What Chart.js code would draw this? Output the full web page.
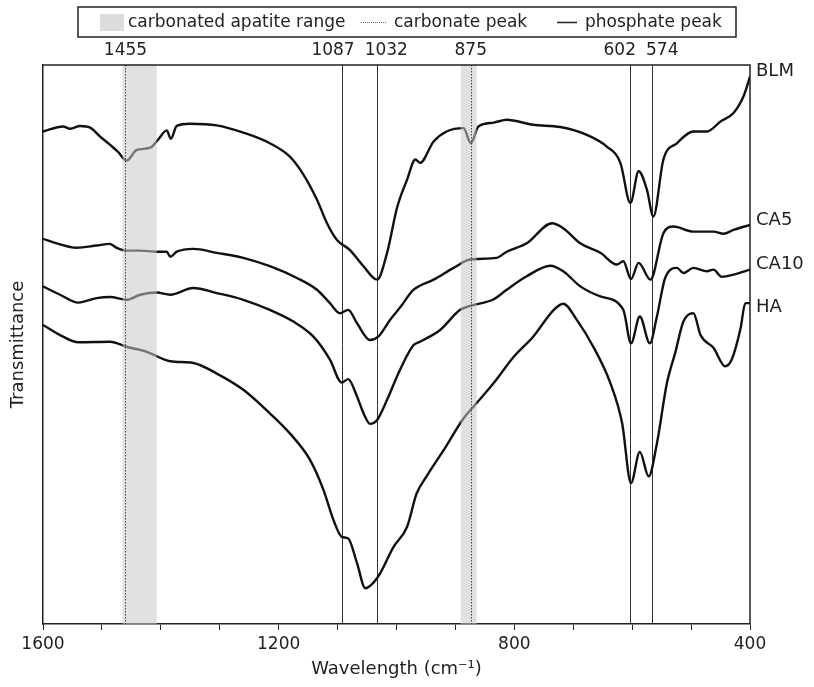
<!DOCTYPE html>
<html>
<head>
<meta charset="utf-8">
<script src="https://cdn.jsdelivr.net/npm/chart.js@4.4.0/dist/chart.umd.min.js"></script>
<style>
  html, body { margin: 0; padding: 0; background: #fff; }
  canvas { display: block; }
</style>
</head>
<body>
<canvas id="ftir" width="814" height="687"></canvas>
<script>
// wavenumber (cm-1) / transmittance (a.u., 0-100)
const blmWn = [1600,1566,1554,1537,1520,1503,1486,1473,1458,1441,1418,1405,1390,1383,1373,1350,1305,1260,1215,1181,1158,1135,1118,1101,1079,1056,1033,1016,999,982,968,960,937,915,886,874,861,835,813,768,722,677,643,620,603,589,575,564,547,524,496,473,450,428,411,400];
const blmT = [88.1,89.0,88.6,89.1,88.8,87.2,85.7,84.5,82.9,84.8,85.2,86.6,88.3,86.8,89.1,89.5,89.2,87.9,86.0,83.6,80.4,75.9,71.7,68.7,66.9,64.0,61.6,66.4,74.5,79.5,83.1,82.5,86.3,88.1,88.7,86.0,89.0,89.7,90.2,89.3,88.9,87.5,85.4,82.5,75.3,81.0,77.7,72.9,83.1,86.0,88.1,88.1,89.9,91.4,94.4,97.9];

const ca5Wn = [1600,1577,1543,1509,1487,1475,1458,1435,1407,1390,1384,1373,1345,1305,1260,1215,1169,1135,1113,1096,1082,1067,1045,1031,1011,994,971,937,903,875,830,813,779,736,717,688,654,626,615,602,589,569,547,530,496,462,445,428,400];
const ca5T = [68.9,68.1,67.3,67.7,68.0,67.3,66.8,66.8,66.6,66.6,65.7,66.6,67.1,66.4,65.5,64.0,61.9,59.8,57.4,55.6,56.2,53.8,50.8,51.4,54.4,56.6,59.8,61.6,63.7,65.2,65.5,66.6,68.1,71.7,70.8,68.1,66.4,64.3,64.9,61.7,64.6,61.6,69.9,71.1,70.2,70.2,69.8,70.5,71.4];

const ca10Wn = [1600,1571,1540,1509,1486,1458,1435,1407,1384,1345,1305,1260,1215,1175,1141,1113,1093,1082,1067,1056,1045,1033,1016,994,971,960,926,892,875,835,813,779,739,717,688,654,615,602,587,570,558,544,524,513,496,473,462,448,428,400];
const ca10T = [60.4,58.9,57.5,58.3,58.5,58.0,58.9,59.3,58.9,60.1,59.2,58.0,56.2,54.1,51.4,47.3,43.2,43.8,40.7,37.7,35.8,36.5,40.1,45.5,49.9,50.5,52.6,56.2,56.9,58.1,59.8,62.2,64.1,63.1,60.4,58.6,56.2,50.2,55.0,50.2,55.0,61.9,63.7,62.8,63.7,63.1,63.4,62.1,62.5,63.4];

const haWn = [1600,1566,1540,1486,1458,1424,1384,1345,1305,1260,1215,1181,1147,1124,1107,1093,1082,1067,1053,1031,1005,982,966,949,920,886,869,835,801,768,733,717,694,666,637,617,602,587,572,558,541,527,513,496,484,462,442,431,416,408,400];
const haT = [53.5,51.4,50.4,50.5,49.6,48.7,47.0,46.7,44.8,41.9,37.7,34.1,29.4,24.0,18.6,15.6,15.3,10.9,6.4,8.5,13.8,17.4,23.3,26.4,31.1,36.8,38.9,43.1,47.8,51.4,56.2,57.3,54.4,49.6,43.1,35.9,25.2,30.8,26.4,32.3,43.1,48.5,54.1,55.6,51.7,49.4,46.1,47.3,52.9,57.4,57.4];

const seriesNames = ['BLM', 'CA5', 'CA10', 'HA'];

// marker lines
const carbonateBands = [[1465, 1407], [891, 864]];
const carbonatePos = [1460, 874];
const carbonateLabels = ['1455', '875'];
const phosphatePos = [1092, 1033, 603, 567];
const phosphateLabels = ['1087', '1032', '602', '574'];

const FONT = '"DejaVu Sans", sans-serif';
const INK = '#222';

const pts = (xs, ys) => xs.map((x, i) => ({ x, y: ys[i] }));
const series = [[blmWn, blmT], [ca5Wn, ca5T], [ca10Wn, ca10T], [haWn, haT]];

const overlay = {
  id: 'overlay',
  beforeDatasetsDraw(chart) {
    const { ctx, chartArea: a, scales: { x } } = chart;
    ctx.save();
    ctx.strokeStyle = '#333';
    ctx.lineWidth = 1;
    phosphatePos.forEach(v => {
      const px = Math.round(x.getPixelForValue(v)) + 0.5;
      ctx.beginPath(); ctx.moveTo(px, a.top); ctx.lineTo(px, a.bottom); ctx.stroke();
    });
    ctx.restore();
  },
  afterDatasetsDraw(chart) {
    const { ctx, chartArea: a, scales: { x } } = chart;
    ctx.save();
    // translucent bands on top of the spectra
    ctx.fillStyle = 'rgba(200,200,200,0.55)';
    carbonateBands.forEach(([hi, lo]) => {
      const x1 = x.getPixelForValue(hi), x2 = x.getPixelForValue(lo);
      ctx.fillRect(x1, a.top, x2 - x1, a.bottom - a.top);
    });
    ctx.strokeStyle = '#444';
    ctx.lineWidth = 1;
    ctx.setLineDash([1.5, 1.5]);
    carbonatePos.forEach(v => {
      const px = Math.round(x.getPixelForValue(v)) + 0.5;
      ctx.beginPath(); ctx.moveTo(px, a.top); ctx.lineTo(px, a.bottom); ctx.stroke();
    });
    ctx.setLineDash([]);
    // frame top / right
    ctx.strokeStyle = INK;
    ctx.lineWidth = 1.5;
    ctx.beginPath();
    ctx.moveTo(a.left, a.top); ctx.lineTo(a.right, a.top); ctx.lineTo(a.right, a.bottom);
    ctx.stroke();
    ctx.restore();
  },
  afterDraw(chart) {
    const { ctx, chartArea: a, scales: { x, y } } = chart;
    ctx.save();
    ctx.fillStyle = INK;
    ctx.textBaseline = 'middle';

    // legend box
    ctx.strokeStyle = INK;
    ctx.lineWidth = 1.5;
    ctx.strokeRect(78, 7, 658, 30);
    ctx.font = '17px ' + FONT;
    ctx.fillStyle = '#dcdcdc';
    ctx.fillRect(100, 14, 24, 17);
    ctx.fillStyle = INK;
    ctx.textAlign = 'left';
    ctx.fillText('carbonated apatite range', 128, 22.5);
    ctx.strokeStyle = '#666';
    ctx.lineWidth = 1;
    ctx.setLineDash([1, 1]);
    ctx.beginPath(); ctx.moveTo(361, 22.5); ctx.lineTo(386, 22.5); ctx.stroke();
    ctx.setLineDash([]);
    ctx.fillText('carbonate peak', 394, 22.5);
    ctx.strokeStyle = INK;
    ctx.lineWidth = 1.5;
    ctx.beginPath(); ctx.moveTo(557, 22.5); ctx.lineTo(577, 22.5); ctx.stroke();
    ctx.fillText('phosphate peak', 585, 22.5);

    // peak labels above the frame, pushed apart where they collide
    const items = carbonatePos.map((v, i) => ({ v, t: carbonateLabels[i] }))
      .concat(phosphatePos.map((v, i) => ({ v, t: phosphateLabels[i] })))
      .map(o => ({ t: o.t, c: x.getPixelForValue(o.v), w: ctx.measureText(o.t).width }))
      .sort((p, q) => p.c - q.c);
    for (let k = 0; k < 6; k++) {
      for (let i = 1; i < items.length; i++) {
        const p = items[i - 1], q = items[i];
        const need = (p.w + q.w) / 2 + 10;
        const d = q.c - p.c;
        if (d < need) { const s = (need - d) / 2; p.c -= s; q.c += s; }
      }
    }
    ctx.textAlign = 'center';
    items.forEach(o => ctx.fillText(o.t, o.c, 51));

    // series names at the right end, stacked so they keep apart
    ctx.font = '18px ' + FONT;
    ctx.textAlign = 'left';
    let prevY = -Infinity;
    series.forEach(([, ys], i) => {
      let ly = y.getPixelForValue(ys[ys.length - 1]) - 5;
      if (ly < prevY + 43) ly = prevY + 43;
      ctx.fillText(seriesNames[i], a.right + 6, ly);
      prevY = ly;
    });
    ctx.restore();
  }
};

new Chart(document.getElementById('ftir'), {
  type: 'line',
  data: {
    datasets: series.map(([xs, ys], i) => ({
      label: seriesNames[i],
      data: pts(xs, ys),
      borderColor: '#111',
      borderWidth: 2.4,
      pointRadius: 0,
      cubicInterpolationMode: 'monotone',
      fill: false
    }))
  },
  options: {
    responsive: false,
    animation: false,
    layout: { padding: { top: 65, right: 64, left: 0, bottom: 0 } },
    plugins: { legend: { display: false }, tooltip: { enabled: false } },
    scales: {
      x: {
        type: 'linear',
        reverse: true,
        min: 400,
        max: 1600,
        ticks: {
          stepSize: 100,
          autoSkip: false,
          maxRotation: 0,
          color: INK,
          padding: 4,
          font: { family: FONT, size: 17 },
          callback: v => (v % 400 === 0 ? v : '')
        },
        grid: { drawOnChartArea: false, drawTicks: true, tickLength: 6, color: INK },
        border: { color: INK, width: 1.5 },
        title: {
          display: true,
          text: 'Wavelength (cm⁻¹)',
          color: INK,
          font: { family: FONT, size: 18 },
          padding: { top: 0, bottom: 7 }
        },
        afterFit: s => { s.height = 63; }
      },
      y: {
        min: 0,
        max: 100,
        ticks: { display: false },
        grid: { drawOnChartArea: false, drawTicks: false },
        border: { color: INK, width: 1.5 },
        title: {
          display: true,
          text: 'Transmittance',
          color: INK,
          font: { family: FONT, size: 18 },
          padding: { top: 8, bottom: 0 }
        },
        afterFit: s => { s.width = 43; }
      }
    }
  },
  plugins: [overlay]
});
</script>
</body>
</html>
